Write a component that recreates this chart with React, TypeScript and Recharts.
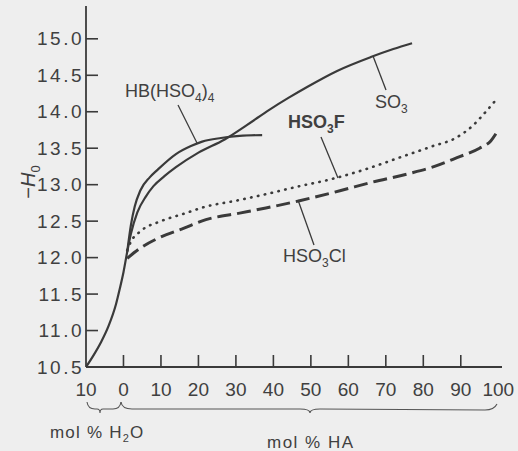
import React from 'react';
import { LineChart, Line, XAxis, YAxis } from 'recharts';

// x < 0 means mol % H2O (left of 0), x > 0 means mol % HA
const xTicks = [-10, 0, 10, 20, 30, 40, 50, 60, 70, 80, 90, 100];
const yTicks = [10.5, 11, 11.5, 12, 12.5, 13, 13.5, 14, 14.5, 15];

const so3X = [-10, -8, -6, -4, -2, -1, 0, 1, 2, 3.7, 6, 8, 11, 14, 20, 27, 33, 39, 44, 49, 57, 66, 72, 77];
const so3Y = [10.5, 10.66, 10.84, 11.06, 11.36, 11.57, 11.8, 12.08, 12.33, 12.62, 12.84, 12.98, 13.12, 13.24, 13.44, 13.62, 13.82, 14.03, 14.19, 14.34, 14.56, 14.75, 14.86, 14.94];

const hbX = [1, 2, 3, 4.5, 7, 9, 14, 18, 21, 26, 31, 37];
const hbY = [12.08, 12.45, 12.7, 12.92, 13.1, 13.2, 13.42, 13.53, 13.59, 13.64, 13.67, 13.68];

const fluoX = [1, 2, 4.5, 10, 16, 22, 30, 38, 47, 55, 62, 68, 73, 82, 89, 93, 96.5, 100];
const fluoY = [12.1, 12.22, 12.36, 12.5, 12.6, 12.7, 12.78, 12.87, 12.98, 13.07, 13.17, 13.27, 13.36, 13.52, 13.65, 13.8, 13.99, 14.2];

const chloX = [1, 4.5, 9, 16, 22, 31, 38, 47, 58, 66, 76, 83, 89, 95, 98, 100];
const chloY = [11.99, 12.13, 12.26, 12.4, 12.52, 12.61, 12.68, 12.78, 12.92, 13.03, 13.15, 13.25, 13.37, 13.5, 13.6, 13.75];

const pts = (xs: number[], ys: number[]) => xs.map((x, i) => ({ x, y: ys[i] }));

const INK = '#3a3a3a';
const TXT = '#404040';
const FONT = '"Liberation Sans", Arial, sans-serif';

const XTick = (props: any) => {
  const { x, y, payload } = props;
  const v = payload.value;
  const inner = v > -10 && v < 100;
  return (
    <g>
      {inner && <line x1={x} y1={y} x2={x} y2={y - 12} stroke={INK} strokeWidth={1.6} />}
      <text x={x} y={y + 29} textAnchor="middle" fontSize={19} fill={TXT} fontFamily={FONT}>
        {Math.abs(v)}
      </text>
    </g>
  );
};

const YTick = (props: any) => {
  const { x, y, payload } = props;
  const v = payload.value;
  return (
    <g>
      {v > 10.5 && <line x1={x} y1={y} x2={x + 12} y2={y} stroke={INK} strokeWidth={1.6} />}
      <text x={x - 2} y={y} dy="0.35em" textAnchor="end" fontSize={19} letterSpacing={2.5} fill={TXT} fontFamily={FONT}>
        {v.toFixed(1)}
      </text>
    </g>
  );
};

const App = () => {
  return (
    <div style={{ position: 'absolute', left: 0, top: 0, width: 518, height: 451, background: '#eeeeee' }}>
      <LineChart width={518} height={451} margin={{ top: 6, right: 16, bottom: 54, left: 0 }}>
        <XAxis
          type="number"
          dataKey="x"
          domain={[-10, 101]}
          ticks={xTicks}
          height={30}
          tickSize={0}
          tickMargin={0}
          tickLine={false}
          tick={<XTick />}
          axisLine={{ stroke: INK, strokeWidth: 1.8 }}
          allowDataOverflow
        />
        <XAxis
          xAxisId="top"
          orientation="top"
          type="number"
          domain={[-10, 101]}
          height={0}
          tick={false}
          tickLine={false}
          axisLine={{ stroke: INK, strokeWidth: 1.6 }}
        />
        <YAxis
          type="number"
          dataKey="y"
          domain={[10.5, 15.45]}
          ticks={yTicks}
          width={86}
          tickSize={0}
          tickMargin={0}
          tickLine={false}
          tick={<YTick />}
          axisLine={{ stroke: INK, strokeWidth: 1.8 }}
          allowDataOverflow
        />
        <YAxis
          yAxisId="right"
          orientation="right"
          type="number"
          domain={[10.5, 15.45]}
          width={0}
          tick={false}
          tickLine={false}
          axisLine={{ stroke: INK, strokeWidth: 1.8 }}
        />
        <Line data={pts(so3X, so3Y)} dataKey="y" type="monotone" stroke={INK} strokeWidth={2.2} dot={false} isAnimationActive={false} />
        <Line data={pts(hbX, hbY)} dataKey="y" type="monotone" stroke={INK} strokeWidth={2.2} dot={false} isAnimationActive={false} />
        <Line
          data={pts(fluoX, fluoY)}
          dataKey="y"
          type="monotone"
          stroke={INK}
          strokeWidth={2.6}
          strokeDasharray="0.5 6.5"
          strokeLinecap="round"
          dot={false}
          isAnimationActive={false}
        />
        <Line
          data={pts(chloX, chloY)}
          dataKey="y"
          type="monotone"
          stroke={INK}
          strokeWidth={3}
          strokeDasharray="14 6"
          dot={false}
          isAnimationActive={false}
        />
      </LineChart>

      <svg width={518} height={451} style={{ position: 'absolute', left: 0, top: 0, pointerEvents: 'none' }} fontFamily={FONT} fill={TXT}>
        {/* y axis title */}
        <text transform="translate(35,182) rotate(-90)" textAnchor="middle" fontSize={20}>
          −<tspan fontStyle="italic">H</tspan>
          <tspan dy={5} fontSize={13}>0</tspan>
        </text>

        {/* curve labels */}
        <text x={125} y={97} fontSize={18}>
          HB(HSO<tspan dy={5} fontSize={12}>4</tspan>
          <tspan dy={-5}>)</tspan>
          <tspan dy={5} fontSize={12}>4</tspan>
        </text>
        <line x1={178} y1={105} x2={197} y2={143} stroke={INK} strokeWidth={1.3} />

        <text x={375} y={108} fontSize={18}>
          SO<tspan dy={5} fontSize={12}>3</tspan>
        </text>
        <line x1={373} y1={56} x2={386} y2={90} stroke={INK} strokeWidth={1.3} />

        <text x={288} y={128} fontSize={18} fontWeight="bold">
          HSO<tspan dy={5} fontSize={12}>3</tspan>
          <tspan dy={-5}>F</tspan>
        </text>
        <line x1={321} y1={137} x2={338} y2={178} stroke={INK} strokeWidth={1.3} />

        <text x={283} y={262} fontSize={18}>
          HSO<tspan dy={5} fontSize={12}>3</tspan>
          <tspan dy={-5}>Cl</tspan>
        </text>
        <line x1={298} y1={200} x2={314} y2={245} stroke={INK} strokeWidth={1.3} />

        {/* braces under the axis */}
        <path
          d="M87,402 Q88,409 95,409 L97,409 Q100,409 100,413 Q100,409 103,409 L113,409 Q120,409 121,402"
          fill="none"
          stroke="#555"
          strokeWidth={1.1}
        />
        <path
          d="M121,402 Q122,409 132,409 L300,409 Q310,409 310,413 Q310,409 320,409 L485,410 Q494,410 497,404"
          fill="none"
          stroke="#555"
          strokeWidth={1.1}
        />
        <text x={50} y={438} fontSize={17} letterSpacing={1.2}>
          mol % H<tspan dy={4} fontSize={11}>2</tspan>
          <tspan dy={-4}>O</tspan>
        </text>
        <text x={267} y={448} fontSize={17} letterSpacing={1.5}>
          mol % HA
        </text>
      </svg>
    </div>
  );
};

export default App;
